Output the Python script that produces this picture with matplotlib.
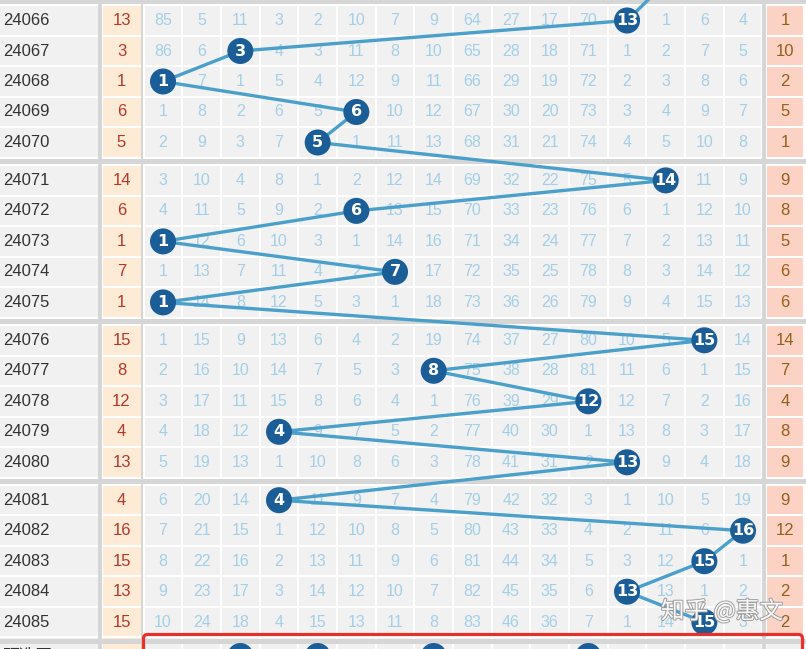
import matplotlib
matplotlib.use('Agg')
import matplotlib.pyplot as plt
from matplotlib.patches import Rectangle, Circle, FancyBboxPatch
import matplotlib.patheffects as pe

# ---------------- data ----------------
periods = ['24066', '24067', '24068', '24069', '24070',
           '24071', '24072', '24073', '24074', '24075',
           '24076', '24077', '24078', '24079', '24080',
           '24081', '24082', '24083', '24084', '24085']
draws = [13, 3, 1, 6, 5, 14, 6, 1, 7, 1, 15, 8, 12, 4, 13, 4, 16, 15, 13, 15]
prev_draw = 14          # draw of the period just above the visible area
right_vals = [1, 10, 2, 5, 1, 9, 8, 5, 6, 6, 14, 7, 4, 8, 9, 9, 12, 1, 2, 2]
omissions = [
    [85, 5, 11, 3, 2, 10, 7, 9, 64, 27, 17, 70, 0, 1, 6, 4],
    [86, 6, 0, 4, 3, 11, 8, 10, 65, 28, 18, 71, 1, 2, 7, 5],
    [0, 7, 1, 5, 4, 12, 9, 11, 66, 29, 19, 72, 2, 3, 8, 6],
    [1, 8, 2, 6, 5, 0, 10, 12, 67, 30, 20, 73, 3, 4, 9, 7],
    [2, 9, 3, 7, 0, 1, 11, 13, 68, 31, 21, 74, 4, 5, 10, 8],
    [3, 10, 4, 8, 1, 2, 12, 14, 69, 32, 22, 75, 5, 0, 11, 9],
    [4, 11, 5, 9, 2, 0, 13, 15, 70, 33, 23, 76, 6, 1, 12, 10],
    [0, 12, 6, 10, 3, 1, 14, 16, 71, 34, 24, 77, 7, 2, 13, 11],
    [1, 13, 7, 11, 4, 2, 0, 17, 72, 35, 25, 78, 8, 3, 14, 12],
    [0, 14, 8, 12, 5, 3, 1, 18, 73, 36, 26, 79, 9, 4, 15, 13],
    [1, 15, 9, 13, 6, 4, 2, 19, 74, 37, 27, 80, 10, 5, 0, 14],
    [2, 16, 10, 14, 7, 5, 3, 0, 75, 38, 28, 81, 11, 6, 1, 15],
    [3, 17, 11, 15, 8, 6, 4, 1, 76, 39, 29, 0, 12, 7, 2, 16],
    [4, 18, 12, 0, 9, 7, 5, 2, 77, 40, 30, 1, 13, 8, 3, 17],
    [5, 19, 13, 1, 10, 8, 6, 3, 78, 41, 31, 2, 0, 9, 4, 18],
    [6, 20, 14, 0, 11, 9, 7, 4, 79, 42, 32, 3, 1, 10, 5, 19],
    [7, 21, 15, 1, 12, 10, 8, 5, 80, 43, 33, 4, 2, 11, 6, 0],
    [8, 22, 16, 2, 13, 11, 9, 6, 81, 44, 34, 5, 3, 12, 0, 1],
    [9, 23, 17, 3, 14, 12, 10, 7, 82, 45, 35, 6, 0, 13, 1, 2],
    [10, 24, 18, 4, 15, 13, 11, 8, 83, 46, 36, 7, 1, 14, 0, 3],
]
preselect = [3, 5, 8, 12]
preselect_label = '预选区:'
watermark = '知乎 @惠文'

# ---------------- layout ----------------
W, H = 806, 649
fig = plt.figure(figsize=(W / 100, H / 100), dpi=100)
ax = fig.add_axes([0, 0, 1, 1])
ax.set_xlim(0, W)
ax.set_ylim(H, 0)
ax.axis('off')
fig.patch.set_facecolor('white')

ROW0, PITCH, GROUP = 20.5, 30.5, 159.9
COL0, CW = 163.0, 38.67
NCOL = 16


def row_y(i):
    return ROW0 + (i // 5) * GROUP + (i % 5) * PITCH


def col_x(k):
    return COL0 + (k - 1) * CW


CELL_BG = '#f1f1f1'
SEP = '#d6d6d6'
PEACH = '#fdebd6'
SALMON = '#fbd2c3'
NUM_C = '#a4cfe9'
BALL_C = '#1b5e97'
LINE_C = '#4aa0ca'
LEFT_T = '#b6372a'
RIGHT_T = '#96601a'
CJK = ['Noto Sans CJK SC', 'DejaVu Sans']
NUMF = 'Liberation Sans'


def draw_row_cells(y, right_color, hgt=28.5):
    top = y - 14.25
    ax.add_patch(Rectangle((0, top), 98, hgt, fc=CELL_BG, ec='none', zorder=0))
    ax.add_patch(Rectangle((102.5, top), 38, hgt, fc=PEACH, ec='none', zorder=0))
    for k in range(1, NCOL + 1):
        ax.add_patch(Rectangle((col_x(k) - CW / 2 + 1, top), CW - 2, hgt,
                               fc=CELL_BG, ec='none', zorder=0))
    ax.add_patch(Rectangle((767, top), 36, hgt, fc=right_color, ec='none', zorder=0))


for i, p in enumerate(periods):
    y = row_y(i)
    draw_row_cells(y, SALMON)
    ax.text(3, y, p, ha='left', va='center', fontsize=12, color='#333333',
            family=NUMF, zorder=2)
    ax.text(121.5, y, str(draws[i]), ha='center', va='center', fontsize=12,
            color=LEFT_T, family=NUMF, zorder=2)
    ax.text(785, y, str(right_vals[i]), ha='center', va='center', fontsize=12,
            color=RIGHT_T, family=NUMF, zorder=2)
    for k, v in enumerate(omissions[i], start=1):
        if v != 0:
            ax.text(col_x(k), y, str(v), ha='center', va='center', fontsize=11.5,
                    color=NUM_C, family=NUMF, zorder=2)

# preselect row (cut by the bottom edge)
yp = 656.0
ax.add_patch(Rectangle((0, yp - 18), 98, 40, fc=CELL_BG, ec='none', zorder=0))
ax.add_patch(Rectangle((102.5, yp - 18), 38, 40, fc=PEACH, ec='none', zorder=0))
for k in range(1, NCOL + 1):
    ax.add_patch(Rectangle((col_x(k) - CW / 2 + 1, yp - 18), CW - 2, 40,
                           fc=CELL_BG, ec='none', zorder=0))
ax.add_patch(Rectangle((767, yp - 18), 36, 40, fc=CELL_BG, ec='none', zorder=0))
ax.text(2, yp, preselect_label, ha='left', va='center', fontsize=12,
        color='#333333', family=CJK, zorder=2)
for d in preselect:
    ax.add_patch(Circle((col_x(d), yp), 13, fc=BALL_C, ec='none', zorder=4))

# group separator bands
for g in range(-1, 4):
    c = row_y(5 * g + 4)
    ax.add_patch(Rectangle((0, c + 16.5), W, 5, fc=SEP, ec='none', zorder=0.5))

# vertical separators
for x0, w in [(98, 4), (140.5, 2.5), (762, 4)]:
    ax.add_patch(Rectangle((x0, 0), w, H, fc=SEP, ec='none', zorder=0.6))

# trend line
xs = [col_x(prev_draw)] + [col_x(d) for d in draws]
ys = [row_y(-1)] + [row_y(i) for i in range(len(draws))]
ax.plot(xs, ys, color=LINE_C, lw=2.4, zorder=3, solid_capstyle='round')

# balls
for i, d in enumerate(draws):
    x, y = col_x(d), row_y(i)
    ax.add_patch(Circle((x, y), 13, fc=BALL_C, ec='none', zorder=4))
    ax.text(x, y, str(d), ha='center', va='center', fontsize=11.5, color='white',
            fontweight='bold', family='DejaVu Sans', zorder=5)

# red selection rectangle
ax.add_patch(FancyBboxPatch((143.5, 634.5), 659, 60,
                            boxstyle='round,pad=0,rounding_size=4',
                            fill=False, ec='#e8302a', lw=2.3, zorder=6))

# watermark
ax.text(722, 611, watermark, ha='center', va='center', fontsize=17,
        color='white', family=CJK, zorder=7, alpha=0.95,
        path_effects=[pe.withStroke(linewidth=1.4, foreground='#9a9a9a')])

fig.savefig('out.png', dpi=100)
